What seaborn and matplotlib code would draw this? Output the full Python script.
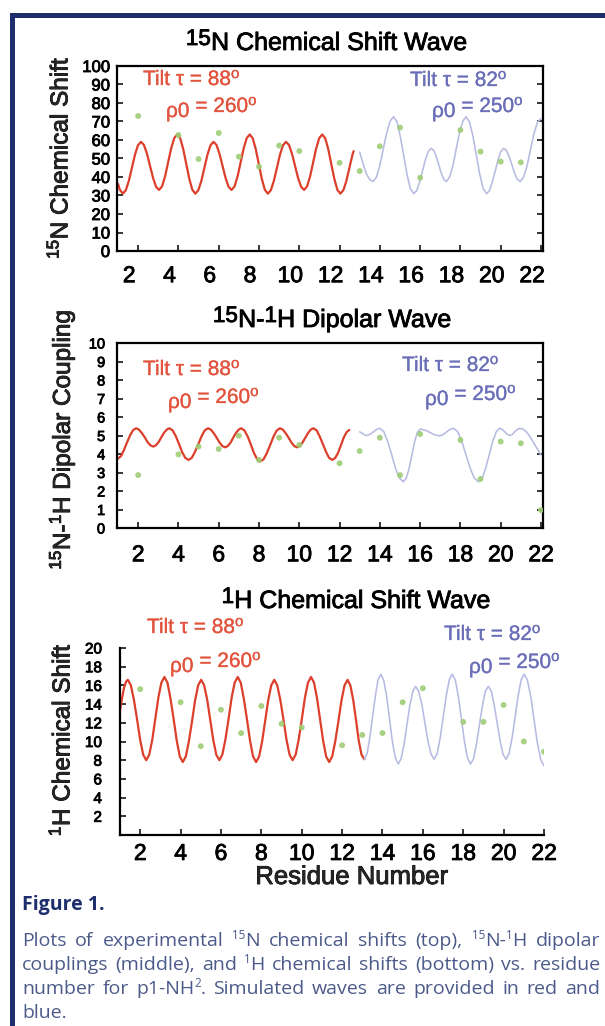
import re
import matplotlib
matplotlib.use("Agg")
import matplotlib.pyplot as plt
import matplotlib.patheffects as path_effects
import seaborn as sns
from matplotlib.transforms import ScaledTranslation

# ---------------- data ----------------
# experimental points (residue, value)
n15_res = [2, 4, 5, 6, 7, 8, 9, 10, 12, 13, 14, 15, 16, 18, 19, 20, 21]
n15_obs = [73, 62.7, 49.7, 63.8, 51, 45.6, 57, 54, 47.7, 43.2, 56.6, 66.7, 39.6, 65.4, 53.7, 48.3, 47.9]

dc_res = [2, 4, 5, 6, 7, 8, 9, 10, 12, 13, 14, 15, 16, 18, 19, 20, 21, 22]
dc_obs = [2.86, 3.98, 4.4, 4.27, 4.99, 3.68, 4.88, 4.49, 3.5, 4.16, 4.88, 2.86, 5.08, 4.76, 2.65, 4.67, 4.58, 0.97]

h1_res = [2, 4, 5, 6, 7, 8, 9, 10, 12, 13, 14, 15, 16, 18, 19, 20, 21, 22]
h1_obs = [15.6, 14.2, 9.5, 13.4, 10.9, 13.8, 11.9, 11.5, 9.6, 10.7, 10.9, 14.2, 15.7, 12.1, 12.1, 13.9, 10.0, 8.9]

# simulated waves: tilt 88 / rho0 260 (red) and tilt 82 / rho0 250 (blue)
n15_red_x = [1.0, 1.09, 1.24, 1.39, 1.54, 1.69, 1.84, 1.99, 2.14, 2.29, 2.44, 2.59, 2.74, 2.89, 3.04,
             3.19, 3.34, 3.49, 3.64, 3.79, 3.94, 4.09, 4.24, 4.39, 4.54, 4.69, 4.84, 4.99, 5.14, 5.29,
             5.44, 5.59, 5.74, 5.89, 6.04, 6.19, 6.34, 6.49, 6.64, 6.79, 6.94, 7.09, 7.24, 7.39, 7.54,
             7.69, 7.84, 7.99, 8.14, 8.29, 8.44, 8.59, 8.74, 8.89, 9.04, 9.19, 9.34, 9.49, 9.64, 9.79,
             9.94, 10.09, 10.24, 10.39, 10.54, 10.69, 10.84, 10.99, 11.14, 11.29, 11.44, 11.59, 11.74,
             11.89, 12.04, 12.19, 12.34, 12.49, 12.64, 12.7]
n15_red_y = [36.3, 33.1, 31.0, 32.9, 38.0, 45.0, 52.0, 57.1, 59.0, 57.3, 52.5, 46.0, 39.5, 34.7, 33.0,
             35.0, 40.5, 48.0, 55.5, 61.0, 63.0, 60.9, 55.0, 47.0, 39.0, 33.1, 31.0, 32.9, 38.0, 45.0,
             52.0, 57.1, 59.0, 57.3, 52.5, 46.0, 39.5, 34.7, 33.0, 35.0, 40.5, 48.0, 55.5, 61.0, 63.0,
             60.9, 55.0, 47.0, 39.0, 33.1, 31.0, 32.9, 38.0, 45.0, 52.0, 57.1, 59.0, 57.3, 52.5, 46.0,
             39.5, 34.7, 33.0, 35.0, 40.5, 48.0, 55.5, 61.0, 63.0, 60.9, 55.0, 47.0, 39.0,
             33.1, 31.0, 32.9, 38.0, 45.0, 52.0, 54.0]
n15_blue_x = [13.0, 13.17, 13.33, 13.5, 13.66, 13.83, 14.0, 14.17, 14.34, 14.51, 14.68, 14.85, 15.01,
              15.18, 15.35, 15.51, 15.68, 15.83, 15.97, 16.12, 16.26, 16.41, 16.55, 16.68, 16.8, 16.93,
              17.05, 17.18, 17.3, 17.46, 17.63, 17.79, 17.95, 18.12, 18.28, 18.45, 18.62, 18.79, 18.96,
              19.13, 19.3, 19.44, 19.58, 19.73, 19.87, 20.01, 20.15, 20.29, 20.42, 20.56, 20.69, 20.83,
              20.96, 21.13, 21.31, 21.48, 21.65, 21.83, 22.0]
n15_blue_y = [53.5, 47.0, 41.8, 38.6, 37.5, 39.9, 46.3, 55.1, 63.8, 70.2, 72.6, 69.8, 62.2,
              51.8, 41.4, 33.8, 31.0, 32.6, 37.1, 43.3, 49.4, 53.9, 55.5, 54.3, 51.0, 46.5,
              42.0, 38.7, 37.5, 39.9, 46.3, 55.1, 63.8, 70.2, 72.6, 69.8, 62.2, 51.8, 41.4,
              33.8, 31.0, 32.6, 37.1, 43.3, 49.4, 53.9, 55.5, 54.3, 51.0, 46.5, 42.0, 38.7,
              37.5, 39.8, 46.1, 54.8, 63.4, 69.7, 71.5]

dc_red_x = [1.0, 1.15, 1.3, 1.45, 1.6, 1.75, 1.9, 2.04, 2.18, 2.33, 2.47, 2.61, 2.75, 2.88, 3.02,
            3.15, 3.28, 3.42, 3.55, 3.71, 3.87, 4.03, 4.18, 4.34, 4.5, 4.66, 4.82, 4.99, 5.15, 5.31,
            5.47, 5.61, 5.75, 5.9, 6.04, 6.18, 6.32, 6.45, 6.59, 6.72, 6.85, 6.99, 7.12, 7.28, 7.44,
            7.6, 7.75, 7.91, 8.07, 8.23, 8.39, 8.56, 8.72, 8.88, 9.04, 9.18, 9.32, 9.47, 9.61, 9.75,
            9.89, 10.03, 10.16, 10.3, 10.43, 10.57, 10.7, 10.86, 11.01, 11.17, 11.33, 11.48, 11.64,
            11.78, 11.92, 12.06, 12.2, 12.34, 12.48]
dc_red_y = [3.75, 3.89, 4.23, 4.63, 5.01, 5.29, 5.39, 5.32, 5.14, 4.9, 4.64, 4.47, 4.4, 4.47, 4.65,
            4.9, 5.14, 5.32, 5.39, 5.28, 4.96, 4.54, 4.11, 3.79, 3.68, 3.79, 4.11, 4.54, 4.96, 5.28,
            5.39, 5.32, 5.13, 4.88, 4.62, 4.43, 4.36, 4.43, 4.62, 4.88, 5.13, 5.32, 5.39, 5.27, 4.94,
            4.5, 4.05, 3.72, 3.6, 3.72, 4.05, 4.5, 4.94, 5.27, 5.39, 5.32, 5.13, 4.88, 4.62, 4.43,
            4.36, 4.43, 4.62, 4.88, 5.13, 5.32, 5.39, 5.28, 4.96, 4.54, 4.11, 3.79, 3.68,
            3.78, 4.05, 4.45, 4.87, 5.17, 5.3]
dc_blue_x = [13.0, 13.12, 13.23, 13.35, 13.51, 13.68, 13.84, 14.0, 14.2, 14.39, 14.59, 14.78, 14.98,
             15.17, 15.31, 15.45, 15.59, 15.72, 15.86, 16.0, 16.24, 16.48, 16.71, 16.95, 17.13, 17.31,
             17.48, 17.66, 17.87, 18.07, 18.28, 18.49, 18.69, 18.9, 19.08, 19.25, 19.43, 19.6, 19.78,
             19.95, 20.08, 20.2, 20.33, 20.45, 20.58, 20.7, 20.83, 20.95, 21.13, 21.3, 21.48, 21.65,
             21.83, 22.0]
dc_blue_y = [5.2, 5.12, 5.04, 5.0, 5.06, 5.2, 5.33, 5.39, 5.2, 4.67, 3.95, 3.22, 2.69,
             2.5, 2.69, 3.21, 3.93, 4.64, 5.16, 5.35, 5.29, 5.17, 5.04, 4.98, 5.04, 5.19,
             5.33, 5.39, 5.2, 4.67, 3.95, 3.22, 2.69, 2.5, 2.69, 3.22, 3.95, 4.67, 5.2,
             5.39, 5.33, 5.2, 5.06, 5.0, 5.06, 5.2, 5.33, 5.39, 5.33, 5.17, 4.9, 4.58,
             4.25, 3.95]

h1_red_x = [1.0, 1.1, 1.2, 1.3, 1.39, 1.54, 1.69, 1.85, 2.0, 2.15, 2.3, 2.45, 2.6, 2.75, 2.9, 3.05,
            3.2, 3.35, 3.5, 3.66, 3.81, 3.96, 4.11, 4.26, 4.41, 4.57, 4.72, 4.87, 5.02, 5.17, 5.32,
            5.47, 5.62, 5.77, 5.92, 6.07, 6.22, 6.38, 6.53, 6.68, 6.83, 6.98, 7.13, 7.29, 7.44, 7.59,
            7.74, 7.89, 8.04, 8.19, 8.34, 8.49, 8.64, 8.79, 8.94, 9.1, 9.25, 9.4, 9.55, 9.7, 9.85,
            10.01, 10.16, 10.31, 10.46, 10.61, 10.76, 10.91, 11.06, 11.21, 11.36, 11.51, 11.66,
            11.82, 11.97, 12.12, 12.27, 12.41, 12.55, 12.69, 12.82, 12.96, 13.1]
h1_red_y = [13.3, 14.6, 15.75, 16.4, 16.6, 16.0, 14.45, 12.3, 10.15, 8.58, 8.0, 8.6, 10.2, 12.45, 14.7,
            16.3, 16.9, 16.3, 14.6, 12.35, 10.1, 8.4, 7.8, 8.4, 10.0, 12.2, 14.4, 16.0, 16.6, 16.0,
            14.45, 12.3, 10.15, 8.58, 8.0, 8.6, 10.2, 12.45, 14.7, 16.3, 16.9, 16.3, 14.6, 12.35,
            10.1, 8.4, 7.8, 8.4, 10.0, 12.2, 14.4, 16.0, 16.6, 16.0, 14.45, 12.3, 10.15, 8.58, 8.0,
            8.6, 10.2, 12.45, 14.7, 16.3, 16.9, 16.3, 14.6, 12.35, 10.1, 8.4, 7.8, 8.4, 10.0, 12.2,
            14.4, 16.0, 16.6, 16.0, 14.45, 12.3, 10.15, 8.6, 8.1]
h1_blue_x = [13.1, 13.24, 13.37, 13.51, 13.65, 13.78, 13.92, 14.06, 14.21, 14.35, 14.49, 14.64, 14.78,
             14.92, 15.07, 15.21, 15.35, 15.5, 15.64, 15.79, 15.95, 16.1, 16.25, 16.41, 16.56, 16.71,
             16.86, 17.01, 17.16, 17.31, 17.46, 17.61, 17.76, 17.91, 18.06, 18.21, 18.36, 18.51,
             18.65, 18.8, 18.95, 19.09, 19.24, 19.39, 19.53, 19.68, 19.83, 19.97, 20.12, 20.27,
             20.42, 20.57, 20.72, 20.87, 21.02, 21.18, 21.35, 21.51, 21.67, 21.84, 22.0]
h1_blue_y = [8.1, 8.7, 10.4, 12.65, 14.9, 16.6, 17.2, 16.56, 14.8, 12.4, 10.0, 8.24, 7.6,
             8.16, 9.68, 11.75, 13.8, 15.34, 15.9, 15.38, 13.95, 12.0, 10.05, 8.62, 8.1, 8.7,
             10.4, 12.65, 14.9, 16.6, 17.2, 16.56, 14.8, 12.4, 10.0, 8.24, 7.6, 8.16,
             9.68, 11.75, 13.8, 15.34, 15.9, 15.38, 13.95, 12.0, 10.05, 8.62, 8.1, 8.7,
             10.4, 12.65, 14.9, 16.6, 17.2, 16.55, 14.75, 12.3, 9.85, 8.05, 7.4]

x_ticks = [2, 4, 6, 8, 10, 12, 14, 16, 18, 20, 22]
n15_ticks = [0, 10, 20, 30, 40, 50, 60, 70, 80, 90, 100]
dc_ticks = [0, 1, 2, 3, 4, 5, 6, 7, 8, 9, 10]
h1_ticks = [2, 4, 6, 8, 10, 12, 14, 16, 18, 20]

caption_lines = [
    "Plots of experimental ^{15}N chemical shifts (top), ^{15}N-^{1}H dipolar",
    "couplings (middle), and ^{1}H chemical shifts (bottom) vs. residue",
    "number for p1-NH^{2}. Simulated waves are provided in red and",
    "blue.",
]

# ---------------- style ----------------
W, H, DPI = 605, 1026, 100
RED, RED_TXT = "#dc3f2c", "#e2543e"
BLUE, BLUE_TXT = "#b7bbe2", "#6a6fb8"
GREEN = "#9fcd76"
NAVY = "#1e2e6c"
CAPTION = "#4c5a8a"

sns.set_theme(style="white")
plt.rcParams["font.family"] = ["Liberation Sans", "DejaVu Sans"]
plt.rcParams["mathtext.fontset"] = "custom"
plt.rcParams["mathtext.rm"] = "Liberation Sans"
plt.rcParams["mathtext.it"] = "Liberation Sans:italic"
plt.rcParams["mathtext.bf"] = "Liberation Sans:bold"

fig = plt.figure(figsize=(W / DPI, H / DPI), dpi=DPI)
fig.patch.set_facecolor("white")
renderer = fig.canvas.get_renderer()


def heavy(color="black", lw=0.7):
    return [path_effects.withStroke(linewidth=lw, foreground=color)]


def fx(px):
    return px / W


def fy(py):
    return 1 - py / H


def axes_px(x0, y0, x1, y1):
    return fig.add_axes([fx(x0), fy(y1), (x1 - x0) / W, (y1 - y0) / H])


def text_width(s, size, family, weight="normal"):
    t = fig.text(0, 0, s, fontsize=size, family=family, weight=weight)
    w = t.get_window_extent(renderer).width
    t.remove()
    return w


def space_width(size, family, weight="normal"):
    return text_width("a a", size, family, weight) - text_width("aa", size, family, weight)


def draw_runs(x, y, runs, ha="left", family=("Liberation Sans", "DejaVu Sans"),
              weight="normal", color="black", stroke=0.0):
    """Draw a row of text pieces on a common baseline (pixel coords from top-left).
    runs: (text, size_pt, raise_px, space_before)"""
    fam = list(family)
    pieces, total = [], 0.0
    for s, size, dy, lead in runs:
        gap = space_width(size, fam, weight) if lead else 0.0
        w = text_width(s, size, fam, weight)
        pieces.append((s, size, dy, gap, w))
        total += gap + w
    cx = {"left": x, "center": x - total / 2, "right": x - total}[ha]
    for s, size, dy, gap, w in pieces:
        cx += gap
        t = fig.text(fx(cx), fy(y - dy), s, fontsize=size, family=fam, weight=weight,
                     color=color, ha="left", va="baseline")
        if stroke:
            t.set_path_effects(heavy(color, stroke))
        cx += w
    return total


def split_word(word):
    parts = []
    for i, chunk in enumerate(re.split(r"\^\{([^}]*)\}", word)):
        if chunk:
            parts.append((chunk, i % 2 == 1))
    return parts


def draw_paragraph(lines, left, right, baselines, size, color, family=("Open Sans", "DejaVu Sans")):
    fam = list(family)
    sup_size = size * 0.6
    sp = space_width(size, fam)
    for k, (line, base) in enumerate(zip(lines, baselines)):
        words = [split_word(w) for w in line.split(" ")]
        widths = []
        for parts in words:
            widths.append(sum(text_width(p, sup_size if sup else size, fam) for p, sup in parts))
        last = k == len(lines) - 1
        gap = sp if last or len(words) < 2 else (right - left - sum(widths)) / (len(words) - 1)
        cx = left
        for parts, w in zip(words, widths):
            px = cx
            for p, sup in parts:
                sz = sup_size if sup else size
                fig.text(fx(px), fy(base - (7 if sup else 0)), p, fontsize=sz, family=fam,
                         color=color, ha="left", va="baseline")
                px += text_width(p, sz, fam)
            cx += w + gap


def style_axes(ax, xlim, ylim, yticks, ysize, ypad, xpad, box=True):
    ax.set_xlim(*xlim)
    ax.set_ylim(*ylim)
    ax.set_xticks(x_ticks)
    ax.set_yticks(yticks)
    ax.set_xlabel("")
    ax.set_ylabel("")
    ax.set_facecolor("white")
    for side, spine in ax.spines.items():
        spine.set_color("black")
        spine.set_linewidth(1.6)
        if not box and side in ("top", "right"):
            spine.set_visible(False)
    ax.tick_params(axis="both", direction="in", length=4.3, width=1.1, color="black",
                   labelcolor="black")
    ax.tick_params(axis="x", labelsize=16.5, pad=xpad, bottom=True, top=False)
    ax.tick_params(axis="y", labelsize=ysize, pad=ypad, left=True, right=box)
    for lab in ax.get_xticklabels() + ax.get_yticklabels():
        lab.set_path_effects(heavy(lw=0.6))


def draw_panel(ax, red_x, red_y, blue_x, blue_y, res, obs):
    sns.lineplot(x=red_x, y=red_y, ax=ax, color=RED, linewidth=1.6, sort=False,
                 estimator=None, zorder=2)
    sns.lineplot(x=blue_x, y=blue_y, ax=ax, color=BLUE, linewidth=1.15, sort=False,
                 estimator=None, zorder=2)
    sns.scatterplot(x=res, y=obs, ax=ax, color=GREEN, s=18, edgecolor="none", alpha=0.9,
                    zorder=3)


def tilt_labels(red_xy, red_xy2, blue_xy, blue_xy2, tilt_r="88", rho_r="260",
                tilt_b="82", rho_b="250", fs=15):
    for (x1, y1), (x2, y2), tilt, rho, col in (
            (red_xy, red_xy2, tilt_r, rho_r, RED_TXT),
            (blue_xy, blue_xy2, tilt_b, rho_b, BLUE_TXT)):
        draw_runs(x1, y1, [("Tilt \u03c4 = " + tilt, fs, 0, False), ("o", fs * 0.72, 7, False)],
                  color=col, stroke=0.2)
        draw_runs(x2, y2, [("\u03c10", fs, -5, False), ("= " + rho, fs, 0, True),
                           ("o", fs * 0.72, 7, False)], color=col, stroke=0.2)


# ---------------- panel 1: 15N chemical shift ----------------
ax1 = axes_px(117, 66, 543, 251)
draw_panel(ax1, n15_red_x, n15_red_y, n15_blue_x, n15_blue_y, n15_res, n15_obs)
style_axes(ax1, (0.95, 22.1), (0, 100), n15_ticks, 12, 5.0, 9.5)
shift = ScaledTranslation(-9 / DPI, 0, fig.dpi_scale_trans)
for lab in ax1.get_xticklabels():
    lab.set_transform(lab.get_transform() + shift)

# ---------------- panel 2: 15N-1H dipolar coupling ----------------
ax2 = axes_px(117, 343, 543, 528)
draw_panel(ax2, dc_red_x, dc_red_y, dc_blue_x, dc_blue_y, dc_res, dc_obs)
style_axes(ax2, (0.95, 22.1), (0, 10), dc_ticks, 10.5, 8.5, 11.0)

# ---------------- panel 3: 1H chemical shift ----------------
ax3 = axes_px(120, 648, 544, 835)
draw_panel(ax3, h1_red_x, h1_red_y, h1_blue_x, h1_blue_y, h1_res, h1_obs)
style_axes(ax3, (1, 22), (0, 20), h1_ticks, 11, 13.0, 5.0, box=False)

# ---------------- titles, axis labels, annotations ----------------
draw_runs(326.5, 50, [("15", 16.2, 5, False), ("N Chemical Shift Wave", 18, 0, False)],
          ha="center", stroke=0.6)
draw_runs(332, 327, [("15", 16.2, 5, False), ("N-", 18, 0, False), ("1", 16.2, 5, False),
                     ("H Dipolar Wave", 18, 0, False)], ha="center", stroke=0.6)
draw_runs(356, 608, [("1", 16.2, 5, False), ("H Chemical Shift Wave", 18, 0, False)],
          ha="center", stroke=0.6)

for (x, y, label) in ((60, 158, r"$^{15}$N Chemical Shift"),
                      (62, 440, r"$^{15}$N-$^{1}$H Dipolar Coupling"),
                      (62, 740, r"$^{1}$H Chemical Shift")):
    t = fig.text(fx(x), fy(y), label, rotation=90, fontsize=17.5, ha="center", va="center")
    t.set_path_effects(heavy(lw=0.6))
t = fig.text(fx(352), fy(877), "Residue Number", fontsize=18.5, ha="center", va="center")
t.set_path_effects(heavy(lw=0.6))

tilt_labels((143, 85), (166, 112), (410, 86), (432, 112))
tilt_labels((143, 375), (168, 403), (402, 371), (425, 400))
tilt_labels((147, 633), (170, 667), (444, 640), (469, 668))

# ---------------- frame and caption ----------------
fig.add_artist(plt.Rectangle((fx(10), fy(18)), (W - 10) / W, 5 / H, transform=fig.transFigure,
                             color=NAVY, lw=0))
fig.add_artist(plt.Rectangle((fx(10), 0), 5 / W, fy(13), transform=fig.transFigure,
                             color=NAVY, lw=0))

draw_runs(22, 910, [("Figure 1.", 14, 0, False)], family=("Open Sans", "DejaVu Sans"),
          weight="bold", color=NAVY)
draw_paragraph(caption_lines, 22, 600, [946, 970, 994, 1018], 14, CAPTION)

fig.savefig("out.png", dpi=DPI)
